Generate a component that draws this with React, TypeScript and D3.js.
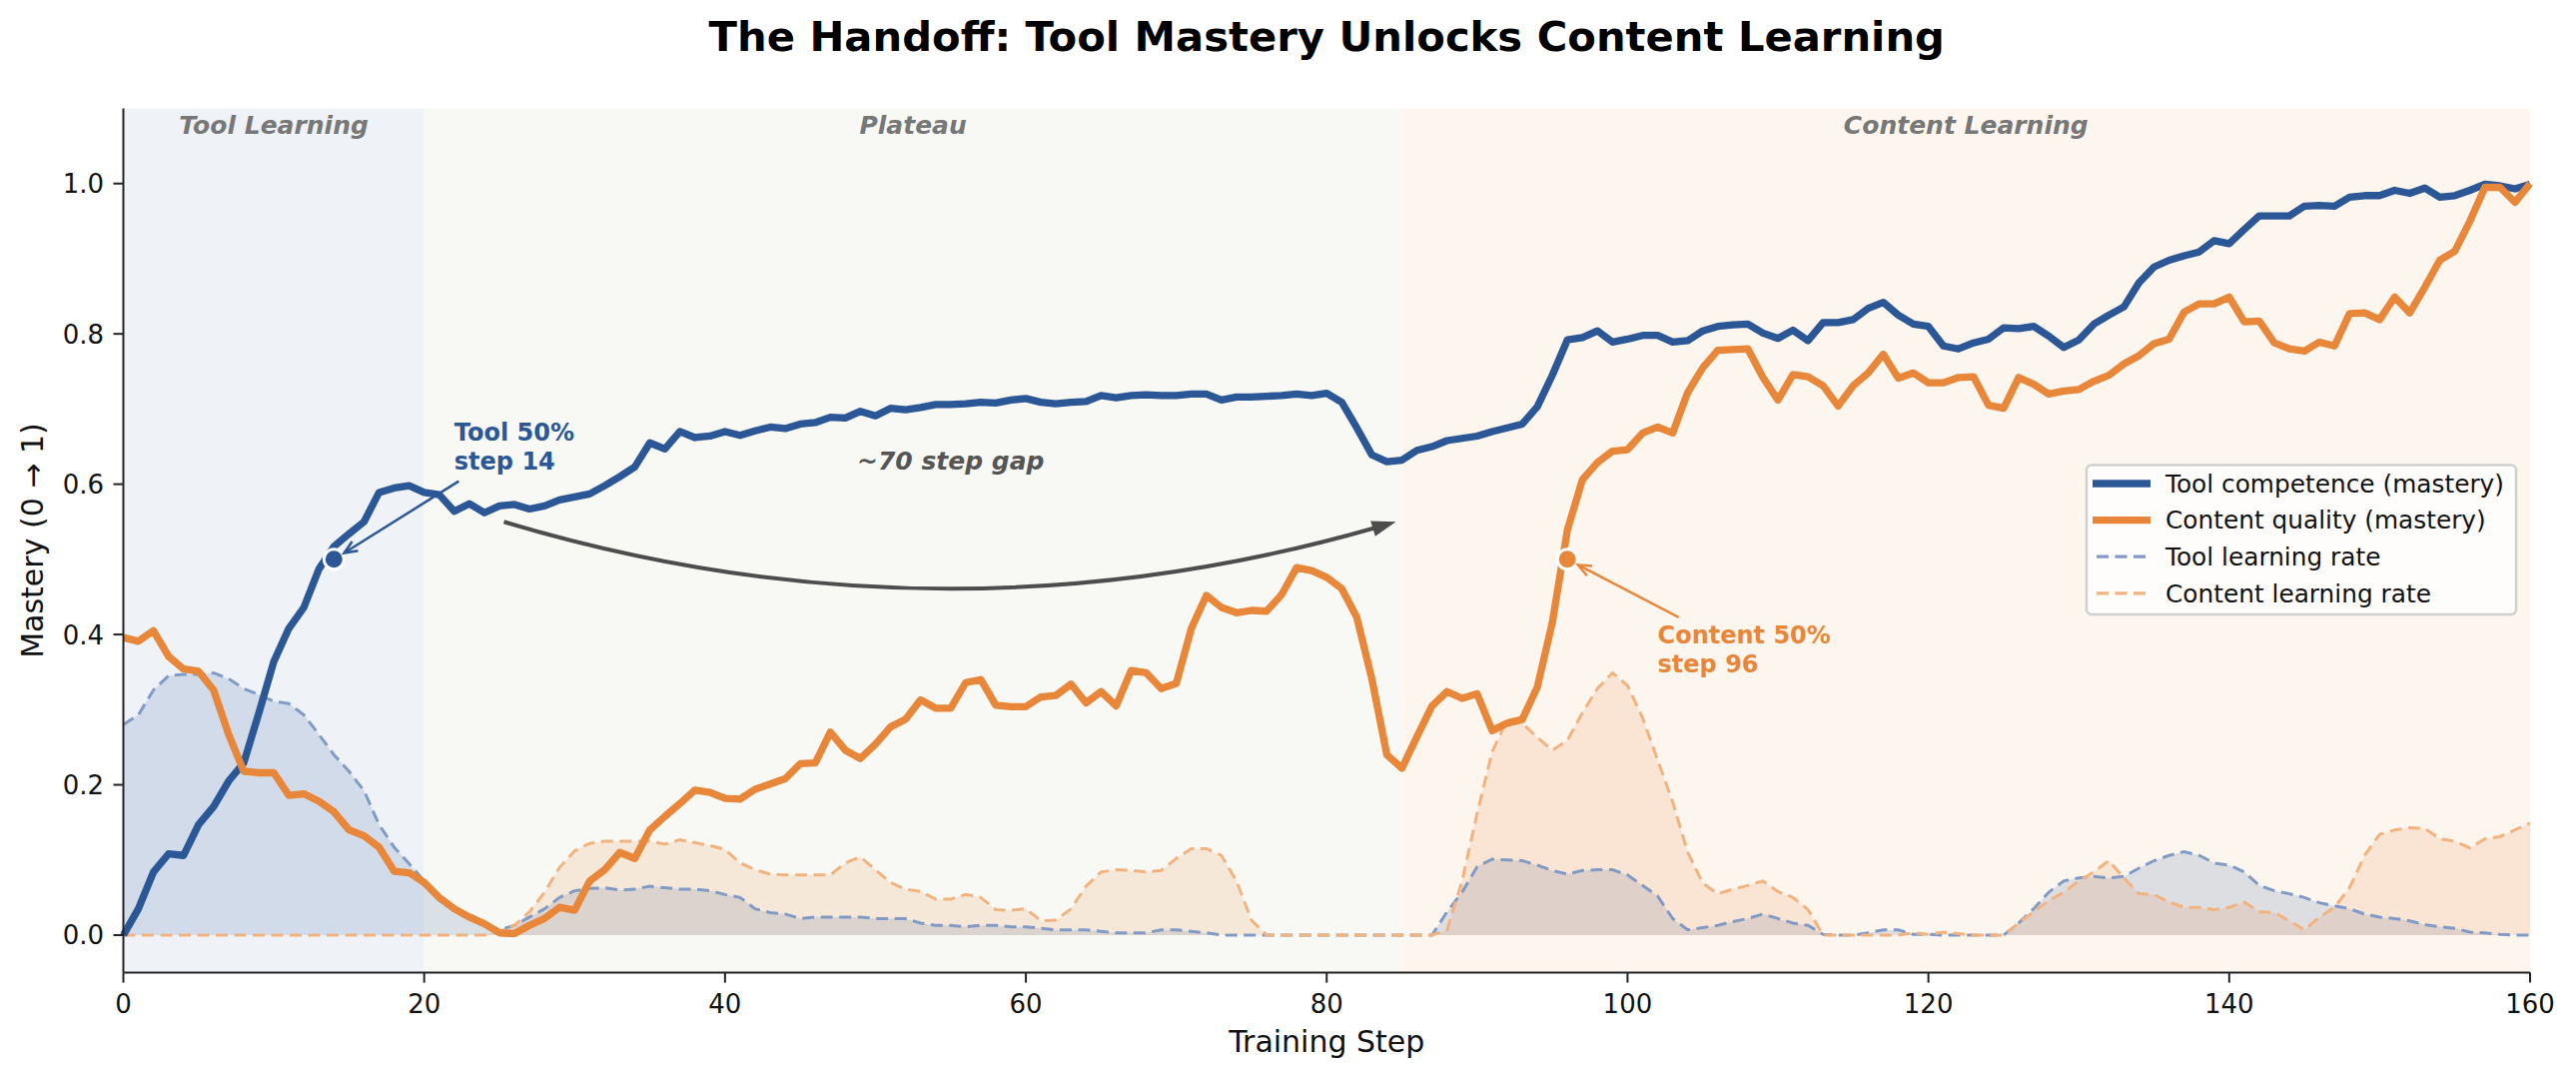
import React from "react";
import * as d3 from "d3";

// training steps 0..160
const steps = d3.range(0, 161);

const toolMastery = [
  0.0, 0.035, 0.084, 0.108, 0.106, 0.147, 0.171, 0.205, 0.229, 0.295,
  0.364, 0.408, 0.436, 0.487, 0.517, 0.534, 0.55, 0.589, 0.595, 0.598,
  0.589, 0.586, 0.564, 0.574, 0.562, 0.571, 0.573, 0.567, 0.571, 0.579,
  0.583, 0.587, 0.598, 0.61, 0.623, 0.655, 0.647, 0.67, 0.662, 0.664,
  0.67, 0.665, 0.671, 0.676, 0.674, 0.68, 0.682, 0.689, 0.688, 0.697,
  0.691, 0.701, 0.699, 0.702, 0.706, 0.706, 0.707, 0.709, 0.708, 0.712,
  0.714, 0.709, 0.707, 0.709, 0.71, 0.718, 0.715, 0.718, 0.719, 0.718,
  0.718, 0.72, 0.72, 0.712, 0.716, 0.716, 0.717, 0.718, 0.72, 0.718,
  0.721, 0.709, 0.675, 0.639, 0.63, 0.632, 0.645, 0.65, 0.658, 0.661,
  0.664, 0.67, 0.675, 0.68, 0.703, 0.745, 0.792, 0.795, 0.804, 0.789,
  0.793, 0.798, 0.798, 0.789, 0.791, 0.804, 0.81, 0.812, 0.813, 0.801,
  0.794, 0.805, 0.791, 0.815, 0.815, 0.819, 0.834, 0.842, 0.825, 0.813,
  0.81, 0.784, 0.78, 0.788, 0.793, 0.808, 0.807, 0.81, 0.797, 0.782,
  0.792, 0.813, 0.825, 0.836, 0.868, 0.889, 0.898, 0.904, 0.909, 0.924,
  0.92, 0.939, 0.957, 0.957, 0.957, 0.97, 0.971, 0.97, 0.982, 0.984,
  0.984, 0.991, 0.987, 0.994, 0.982, 0.984, 0.991, 0.999, 0.997, 0.993,
  0.999,
];

const contentMastery = [
  0.396, 0.391, 0.405, 0.371, 0.354, 0.351, 0.326, 0.267, 0.218, 0.216,
  0.216, 0.186, 0.188, 0.178, 0.164, 0.14, 0.132, 0.117, 0.085, 0.083,
  0.07, 0.05, 0.035, 0.024, 0.015, 0.003, 0.002, 0.013, 0.022, 0.037,
  0.033, 0.072, 0.087, 0.11, 0.102, 0.14, 0.158, 0.175, 0.193, 0.19,
  0.182, 0.181, 0.194, 0.201, 0.208, 0.228, 0.229, 0.27, 0.246, 0.235,
  0.254, 0.277, 0.287, 0.313, 0.302, 0.302, 0.336, 0.34, 0.306, 0.304,
  0.304, 0.317, 0.319, 0.334, 0.309, 0.324, 0.305, 0.352, 0.349, 0.328,
  0.335, 0.408, 0.452, 0.436, 0.429, 0.432, 0.431, 0.453, 0.489, 0.485,
  0.476, 0.461, 0.423, 0.341, 0.24, 0.222, 0.264, 0.305, 0.324, 0.315,
  0.321, 0.272, 0.282, 0.287, 0.33, 0.416, 0.539, 0.606, 0.629, 0.644,
  0.646, 0.668, 0.676, 0.668, 0.722, 0.755, 0.778, 0.779, 0.78, 0.742,
  0.712, 0.746, 0.743, 0.731, 0.704, 0.731, 0.748, 0.773, 0.741, 0.748,
  0.735, 0.735, 0.742, 0.743, 0.705, 0.701, 0.742, 0.733, 0.72, 0.724,
  0.726, 0.737, 0.745, 0.76, 0.771, 0.787, 0.793, 0.829, 0.84, 0.84,
  0.849, 0.816, 0.817, 0.788, 0.78, 0.777, 0.789, 0.784, 0.827, 0.828,
  0.819, 0.849, 0.828, 0.862, 0.898, 0.91, 0.95, 0.995, 0.995, 0.975,
  1.0,
];

const toolRate = [
  0.28, 0.293, 0.326, 0.345, 0.347, 0.347, 0.349, 0.341, 0.328, 0.32,
  0.311, 0.308, 0.293, 0.267, 0.24, 0.218, 0.192, 0.147, 0.117, 0.095,
  0.072, 0.046, 0.035, 0.028, 0.016, 0.007, 0.013, 0.024, 0.035, 0.05,
  0.059, 0.062, 0.063, 0.06, 0.061, 0.065, 0.063, 0.061, 0.061, 0.059,
  0.054, 0.05, 0.035, 0.03, 0.028, 0.022, 0.024, 0.024, 0.024, 0.024,
  0.022, 0.022, 0.022, 0.016, 0.013, 0.013, 0.011, 0.013, 0.013, 0.011,
  0.011, 0.009, 0.007, 0.007, 0.007, 0.005, 0.003, 0.003, 0.003, 0.007,
  0.007, 0.005, 0.003, 0, 0, 0, 0, 0, 0, 0,
  0, 0, 0, 0, 0, 0, 0, 0, 0.031, 0.057,
  0.091, 0.101, 0.1, 0.099, 0.093, 0.086, 0.081, 0.086, 0.087, 0.087,
  0.08, 0.066, 0.052, 0.022, 0.007, 0.01, 0.013, 0.018, 0.022, 0.028,
  0.022, 0.016, 0.013, 0.001, 0, 0, 0.003, 0.007, 0.007, 0.001,
  0.001, 0, 0, 0, 0, 0, 0.016, 0.035, 0.057, 0.072,
  0.076, 0.078, 0.076, 0.078, 0.089, 0.099, 0.106, 0.111, 0.106, 0.096,
  0.093, 0.084, 0.066, 0.059, 0.055, 0.05, 0.043, 0.039, 0.035, 0.028,
  0.024, 0.022, 0.019, 0.014, 0.011, 0.009, 0.004, 0.003, 0.001, 0,
  0,
];

const contentRate = [
  0, 0, 0, 0, 0, 0, 0, 0, 0, 0,
  0, 0, 0, 0, 0, 0, 0, 0, 0, 0,
  0, 0, 0, 0, 0, 0.005, 0.013, 0.031, 0.057, 0.09,
  0.112, 0.122, 0.125, 0.125, 0.125, 0.125, 0.121, 0.127, 0.123, 0.119,
  0.114, 0.096, 0.087, 0.081, 0.08, 0.08, 0.08, 0.08, 0.096, 0.104,
  0.087, 0.07, 0.061, 0.058, 0.048, 0.048, 0.054, 0.05, 0.034, 0.033,
  0.035, 0.019, 0.02, 0.035, 0.065, 0.084, 0.087, 0.086, 0.084, 0.086,
  0.102, 0.115, 0.115, 0.106, 0.072, 0.02, 0, 0, 0, 0,
  0, 0, 0, 0, 0, 0, 0, 0, 0.007, 0.072,
  0.162, 0.244, 0.287, 0.282, 0.263, 0.246, 0.259, 0.296, 0.328, 0.349,
  0.332, 0.289, 0.233, 0.177, 0.11, 0.069, 0.055, 0.061, 0.066, 0.072,
  0.058, 0.05, 0.034, 0, 0, 0, 0, 0, 0, 0.003,
  0.001, 0.004, 0.002, 0, 0, 0, 0.016, 0.031, 0.046, 0.057,
  0.072, 0.084, 0.099, 0.076, 0.055, 0.054, 0.044, 0.037, 0.037, 0.034,
  0.037, 0.044, 0.031, 0.03, 0.019, 0.007, 0.024, 0.037, 0.063, 0.106,
  0.134, 0.14, 0.143, 0.142, 0.128, 0.125, 0.116, 0.128, 0.131, 0.14,
  0.149,
];

const phaseNames = ["Tool Learning", "Plateau", "Content Learning"];
const phaseStarts = [0, 20, 85];
const phaseEnds = [20, 85, 160];

const xTicks = [0, 20, 40, 60, 80, 100, 120, 140, 160];
const yTicks = [0, 0.2, 0.4, 0.6, 0.8, 1.0];

const toolHalfStep = 14;
const contentHalfStep = 96;

const legendLabels = [
  "Tool competence (mastery)",
  "Content quality (mastery)",
  "Tool learning rate",
  "Content learning rate",
];

// styles
const W = 2579;
const H = 1080;
const BLUE = "#2b5797";
const ORANGE = "#e8873a";
const BLUE_RATE = "#819bc6";
const ORANGE_RATE = "#f2b37f";
const PHASE_FILLS = ["#eff3f8", "#f8f9f5", "#fdf6ef"];
const FONT = "DejaVu Sans";
const DASH = "12 6.5";

function arrowParts(sx: number, sy: number, tx: number, ty: number, shrink: number, head: number, half: number) {
  const dx = tx - sx;
  const dy = ty - sy;
  const len = Math.hypot(dx, dy);
  const ux = dx / len;
  const uy = dy / len;
  const ex = tx - ux * shrink;
  const ey = ty - uy * shrink;
  const bx = ex - ux * head;
  const by = ey - uy * head;
  const px = -uy;
  const py = ux;
  return {
    line: `M${sx},${sy}L${ex},${ey}`,
    head: `M${bx + px * half},${by + py * half}L${ex},${ey}L${bx - px * half},${by - py * half}`,
  };
}

export default function App() {
  const x = d3.scaleLinear().domain([0, 160]).range([123.5, 2533]);
  const y = d3.scaleLinear().domain([-0.05, 1.1]).range([973.6, 108.5]);
  const [x0, x1] = x.range();
  const [yb, yt] = y.range();

  const line = d3
    .line<number>()
    .x((_, i) => x(steps[i]))
    .y((d) => y(d));
  const area = d3
    .area<number>()
    .x((_, i) => x(steps[i]))
    .y0(y(0))
    .y1((d) => y(d));

  // annotation arrows
  const toolArrow = arrowParts(x(22.3), y(0.604), x(toolHalfStep), y(0.5), 12, 13, 5.5);
  const contentArrow = arrowParts(x(103.4), y(0.423), x(contentHalfStep), y(0.5), 12, 13, 5.5);

  // curved "gap" arrow (quadratic bezier)
  const S = [x(25.3), y(0.55)];
  const E = [x(84.6), y(0.55)];
  const C = [(S[0] + E[0]) / 2, y(0.55) + 134];
  const t = 0.978;
  const c1 = [S[0] + t * (C[0] - S[0]), S[1] + t * (C[1] - S[1])];
  const bt = [
    (1 - t) * (1 - t) * S[0] + 2 * (1 - t) * t * C[0] + t * t * E[0],
    (1 - t) * (1 - t) * S[1] + 2 * (1 - t) * t * C[1] + t * t * E[1],
  ];
  const tdx = E[0] - C[0];
  const tdy = E[1] - C[1];
  const tl = Math.hypot(tdx, tdy);
  const ux = tdx / tl;
  const uy = tdy / tl;
  const hb = [E[0] - ux * 24, E[1] - uy * 24];
  const gapHead = `M${hb[0] - uy * 8},${hb[1] + ux * 8}L${E[0]},${E[1]}L${hb[0] + uy * 8},${hb[1] - ux * 8}Z`;

  const legendColors = [BLUE, ORANGE, BLUE_RATE, ORANGE_RATE];
  const legendWidths = [7.3, 7.3, 3.3, 3.3];
  const legendDash = [undefined, undefined, DASH, DASH];

  return (
    <svg
      width={W}
      height={H}
      style={{ position: "absolute", left: 0, top: 0, background: "#fff" }}
      fontFamily={FONT}
    >
      {/* phase backgrounds */}
      {phaseNames.map((name, i) => (
        <rect
          key={name}
          x={x(phaseStarts[i])}
          y={yt}
          width={x(phaseEnds[i]) - x(phaseStarts[i])}
          height={yb - yt}
          fill={PHASE_FILLS[i]}
        />
      ))}
      {phaseNames.map((name, i) => (
        <text
          key={name + "-label"}
          x={x((phaseStarts[i] + phaseEnds[i]) / 2)}
          y={134}
          textAnchor="middle"
          fontSize={25}
          fontWeight="bold"
          fontStyle="italic"
          fill="#777"
        >
          {name}
        </text>
      ))}

      {/* learning-rate areas */}
      <path d={area(toolRate) || ""} fill={BLUE} fillOpacity={0.15} />
      <path d={area(contentRate) || ""} fill={ORANGE} fillOpacity={0.15} />
      <path d={line(toolRate) || ""} fill="none" stroke={BLUE_RATE} strokeWidth={3} strokeDasharray={DASH} />
      <path d={line(contentRate) || ""} fill="none" stroke={ORANGE_RATE} strokeWidth={3} strokeDasharray={DASH} />

      {/* mastery lines */}
      <path d={line(toolMastery) || ""} fill="none" stroke={BLUE} strokeWidth={7.3} strokeLinejoin="round" />
      <path d={line(contentMastery) || ""} fill="none" stroke={ORANGE} strokeWidth={7.3} strokeLinejoin="round" />

      {/* 50% markers */}
      <circle cx={x(toolHalfStep)} cy={y(0.5)} r={10} fill={BLUE} stroke="#fff" strokeWidth={3} />
      <circle cx={x(contentHalfStep)} cy={y(0.5)} r={10} fill={ORANGE} stroke="#fff" strokeWidth={3} />

      <path d={toolArrow.line} stroke={BLUE} strokeWidth={2.5} fill="none" />
      <path d={toolArrow.head} stroke={BLUE} strokeWidth={2.5} fill="none" />
      <path d={contentArrow.line} stroke={ORANGE} strokeWidth={2.5} fill="none" />
      <path d={contentArrow.head} stroke={ORANGE} strokeWidth={2.5} fill="none" />

      <text x={x(22)} fontSize={24} fontWeight="bold" fill={BLUE}>
        <tspan x={x(22)} y={y(0.62) - 28.5}>Tool 50%</tspan>
        <tspan x={x(22)} y={y(0.62)}>step {toolHalfStep}</tspan>
      </text>
      <text x={x(102)} fontSize={24} fontWeight="bold" fill={ORANGE}>
        <tspan x={x(102)} y={y(0.35) - 28.5}>Content 50%</tspan>
        <tspan x={x(102)} y={y(0.35)}>step {contentHalfStep}</tspan>
      </text>

      {/* gap arrow */}
      <path
        d={`M${S[0]},${S[1]}Q${c1[0]},${c1[1]} ${bt[0]},${bt[1]}`}
        fill="none"
        stroke="#4d4d4d"
        strokeWidth={4}
      />
      <path d={gapHead} fill="#4d4d4d" />
      <text x={x(55)} y={470} textAnchor="middle" fontSize={25} fontWeight="bold" fontStyle="italic" fill="#555">
        ~70 step gap
      </text>

      {/* axes */}
      <line x1={x0} x2={x0} y1={yt} y2={yb} stroke="#222" strokeWidth={2} />
      <line x1={x0} x2={x1} y1={yb} y2={yb} stroke="#222" strokeWidth={2} />
      {xTicks.map((v) => (
        <g key={"xt" + v}>
          <line x1={x(v)} x2={x(v)} y1={yb} y2={yb + 10} stroke="#222" strokeWidth={2} />
          <text x={x(v)} y={1014} textAnchor="middle" fontSize={26} fill="#111">
            {v}
          </text>
        </g>
      ))}
      {yTicks.map((v) => (
        <g key={"yt" + v}>
          <line x1={x0 - 10} x2={x0} y1={y(v)} y2={y(v)} stroke="#222" strokeWidth={2} />
          <text x={104} y={y(v) + 9.5} textAnchor="end" fontSize={26} fill="#111">
            {v.toFixed(1)}
          </text>
        </g>
      ))}
      <text x={(x0 + x1) / 2} y={1053} textAnchor="middle" fontSize={30} fill="#111">
        Training Step
      </text>
      <text
        transform={`translate(43,${(yt + yb) / 2}) rotate(-90)`}
        textAnchor="middle"
        fontSize={30}
        fill="#111"
      >
        Mastery (0 → 1)
      </text>

      {/* title */}
      <text x={(x0 + x1) / 2} y={51} textAnchor="middle" fontSize={41.7} fontWeight="bold" fill="#000">
        The Handoff: Tool Mastery Unlocks Content Learning
      </text>

      {/* legend */}
      <rect x={2089} y={465.5} width={430} height={149.5} rx={5} fill="#fff" fillOpacity={0.8} stroke="#cfcfcf" strokeWidth={2.5} />
      {legendLabels.map((label, i) => {
        const ly = 484 + i * 36.6;
        return (
          <g key={label}>
            <line
              x1={i < 2 ? 2095 : 2099}
              x2={i < 2 ? 2153 : 2149}
              y1={ly}
              y2={ly}
              stroke={legendColors[i]}
              strokeWidth={legendWidths[i]}
              strokeDasharray={legendDash[i]}
            />
            <text x={2168} y={ly + 8.8} fontSize={24.8} fill="#111">
              {label}
            </text>
          </g>
        );
      })}
    </svg>
  );
}
